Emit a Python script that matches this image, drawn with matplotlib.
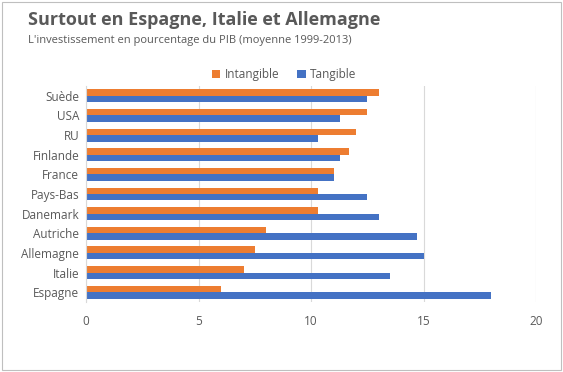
import matplotlib
matplotlib.use("Agg")
import matplotlib.pyplot as plt
import numpy as np
from matplotlib.patches import Rectangle

# data (bottom to top)
pays = ['Espagne', 'Italie', 'Allemagne', 'Autriche', 'Danemark', 'Pays-Bas',
        'France', 'Finlande', 'RU', 'USA', 'Suède']
intangible = [6.0, 7.0, 7.5, 8.0, 10.3, 10.3, 11.0, 11.7, 12.0, 12.5, 13.0]
tangible = [18.0, 13.5, 15.0, 14.7, 13.0, 12.5, 11.0, 11.3, 10.3, 11.3, 12.5]
xticks = [0, 5, 10, 15, 20]

plt.rcParams['font.family'] = ['Open Sans', 'DejaVu Sans']
grey = '#595959'
orange = '#ED7D31'
blue = '#4472C4'

fig = plt.figure(figsize=(5.63, 3.72), dpi=100)
fig.patches.append(Rectangle((0.004, 0.005), 0.992, 0.99, transform=fig.transFigure,
                             fill=False, edgecolor='#bfbfbf', linewidth=0.8))

ax = fig.add_axes([0.153, 0.188, 0.799, 0.581])
y = np.arange(len(pays))
h = 0.33
ax.barh(y + h / 2, intangible, height=h, color=orange, label='Intangible')
ax.barh(y - h / 2, tangible, height=h, color=blue, label='Tangible')

ax.set_xlim(0, 20)
ax.set_ylim(-0.5, len(pays) - 0.5)
ax.set_xticks(xticks)
ax.set_yticks(y)
ax.set_yticklabels(pays)
ax.tick_params(axis='both', length=0, colors=grey, labelsize=8.5)
ax.tick_params(axis='x', pad=9)
ax.tick_params(axis='y', pad=5)
ax.grid(axis='x', color='#d9d9d9', linewidth=0.8)
ax.set_axisbelow(True)
for s in ['top', 'right', 'bottom']:
    ax.spines[s].set_visible(False)
ax.spines['left'].set_color('#d9d9d9')

fig.text(0.05, 0.945, 'Surtout en Espagne, Italie et Allemagne', fontsize=13,
         fontweight='bold', color=grey, va='center')
fig.text(0.05, 0.89, "L'investissement en pourcentage du PIB (moyenne 1999-2013)",
         fontsize=8, color=grey, va='center')

handles, labels = ax.get_legend_handles_labels()
fig.legend(handles, labels, loc='center', bbox_to_anchor=(0.505, 0.8), ncol=2,
           frameon=False, fontsize=8.5, labelcolor=grey, handlelength=0.7,
           handleheight=0.7, handletextpad=0.4, columnspacing=1.5)

fig.savefig('out.png', dpi=100)
